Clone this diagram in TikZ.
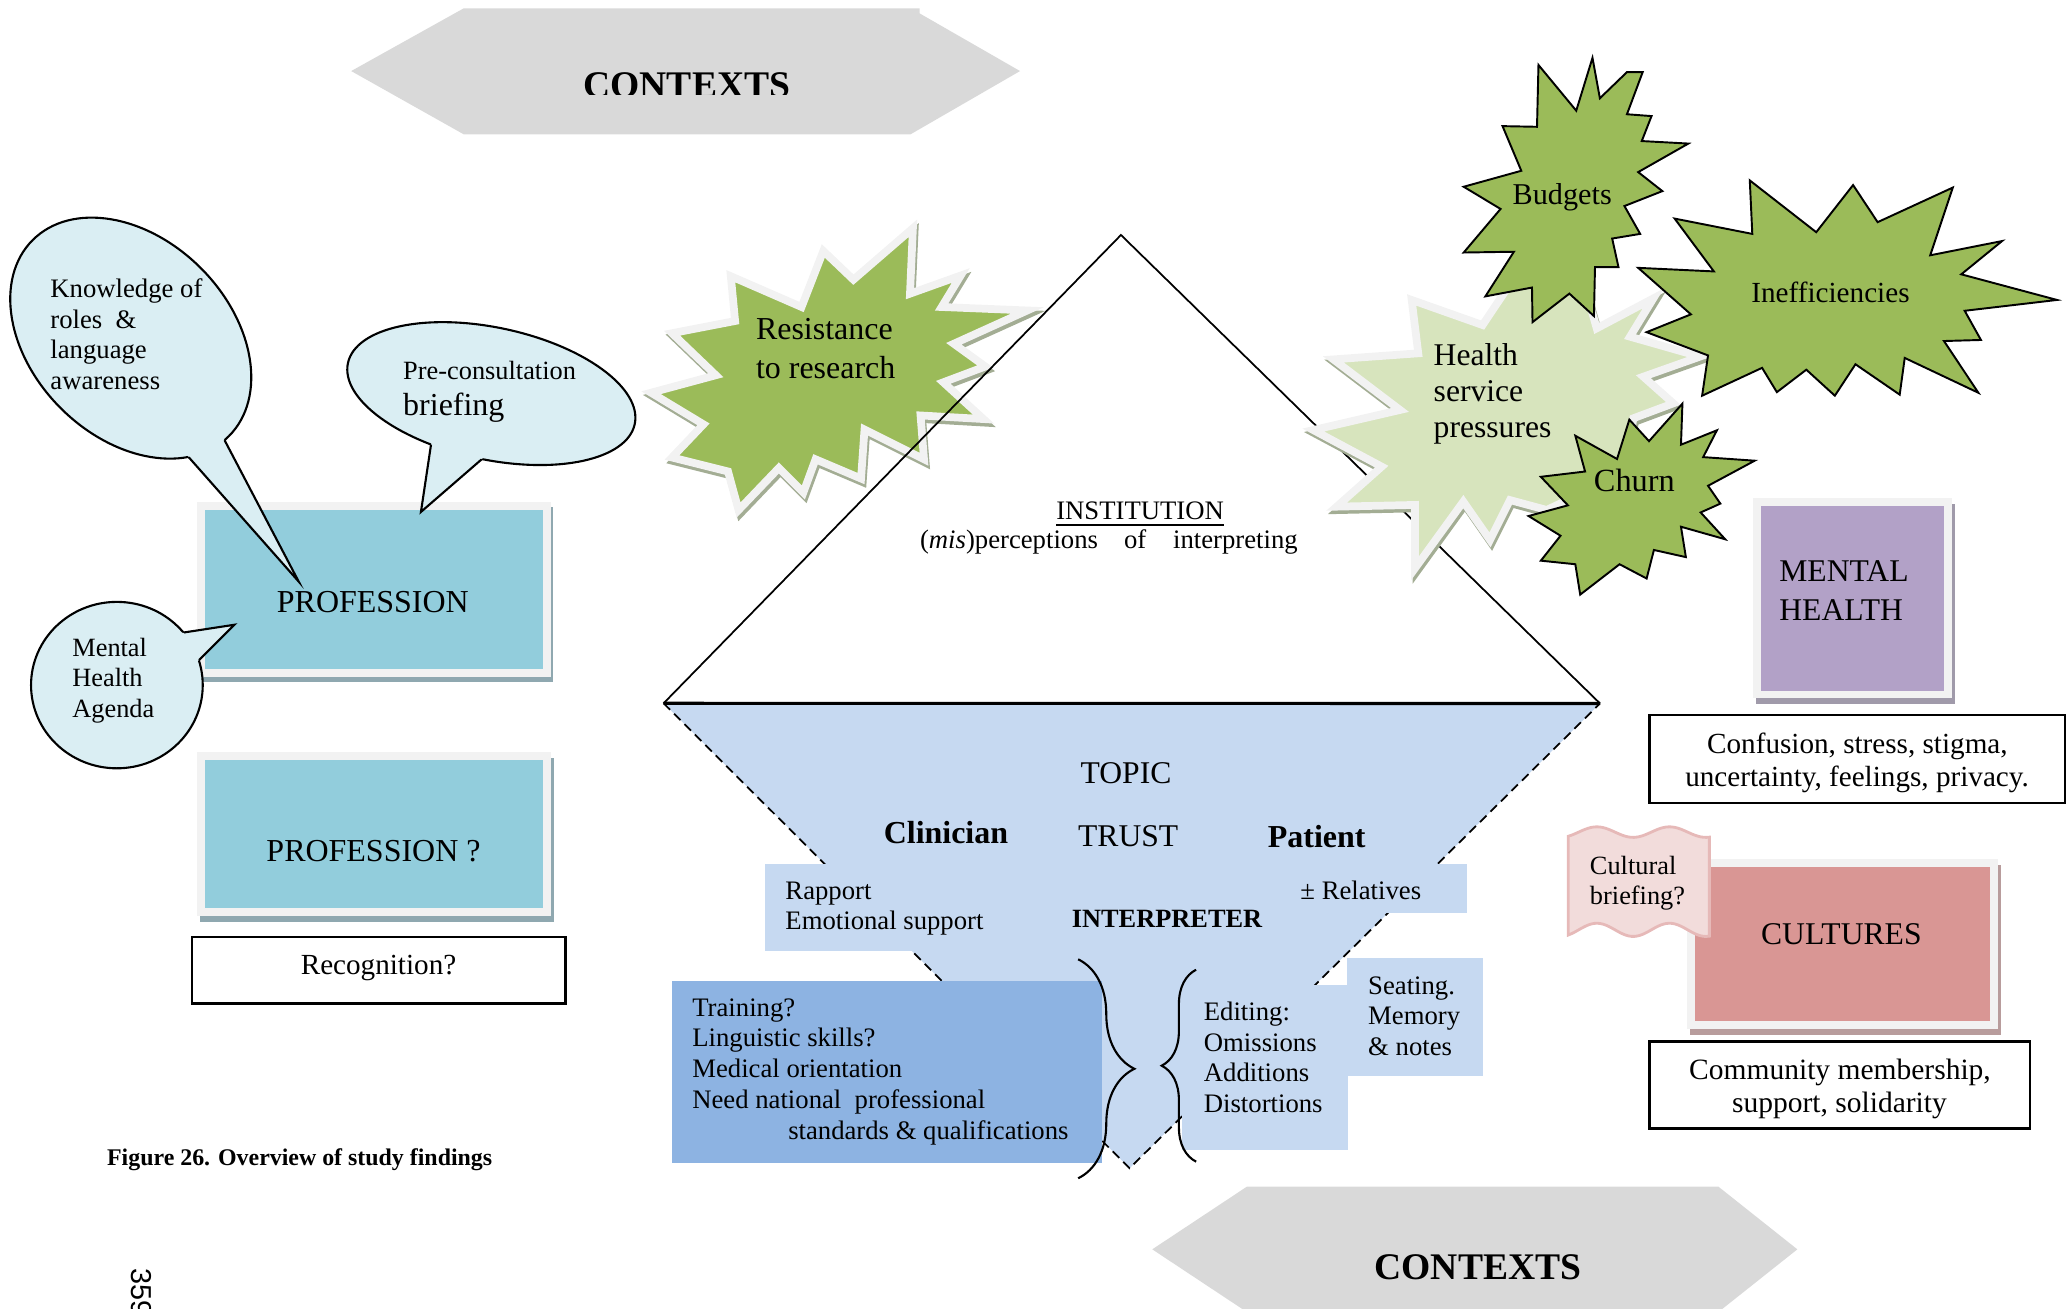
\documentclass[tikz,border=0pt]{standalone}
\usepackage{fontspec}
\setmainfont{Liberation Serif}
\newfontfamily\pnfont{Liberation Sans}
\usetikzlibrary{decorations.pathreplacing}

\definecolor{hexgray}{HTML}{D9D9D9}
\definecolor{bubblefill}{HTML}{DAEEF3}
\definecolor{profblue}{HTML}{92CDDC}
\definecolor{framegray}{HTML}{F2F2F2}
\definecolor{profshadow}{HTML}{8FA8B0}
\definecolor{stargreen}{HTML}{9BBB59}
\definecolor{lightgreen}{HTML}{D7E4BD}
\definecolor{starshadow}{HTML}{A3AD94}
\definecolor{funnelblue}{HTML}{C6D9F1}
\definecolor{trainblue}{HTML}{8DB3E2}
\definecolor{mhpurple}{HTML}{B2A1C7}
\definecolor{mhshadow}{HTML}{A09AAA}
\definecolor{cultpink}{HTML}{D99694}
\definecolor{cultshadow}{HTML}{B89C9C}
\definecolor{flagfill}{HTML}{F2DCDB}
\definecolor{flagedge}{HTML}{E6B9B8}

\tikzset{
  lbl/.style={inner sep=0pt, outer sep=0pt},
  f75/.style={lbl, font=\fontsize{7.5}{9}\selectfont},
  f76/.style={lbl, font=\fontsize{7.6}{9}\selectfont},
  f83/.style={lbl, font=\fontsize{8.3}{10}\selectfont},
  f84/.style={lbl, font=\fontsize{8.4}{10}\selectfont},
  f86/.style={lbl, font=\fontsize{8.6}{10}\selectfont},
  f90/.style={lbl, font=\fontsize{9}{11}\selectfont},
  f91/.style={lbl, font=\fontsize{9.1}{11}\selectfont},
  f92/.style={lbl, font=\fontsize{9.2}{11}\selectfont},
  b75/.style={lbl, font=\fontsize{7.5}{9}\selectfont\bfseries},
  b91/.style={lbl, font=\fontsize{9.1}{11}\selectfont\bfseries},
  b68/.style={lbl, font=\fontsize{6.8}{8}\selectfont\bfseries},
  ctx/.style={lbl, font=\fontsize{10.7}{13}\selectfont\bfseries},
  BL/.style={anchor=base west},
  BC/.style={anchor=base},
  BR/.style={anchor=base east},
  hexshape/.style={fill=hexgray},
  outline/.style={draw=black, line width=0.75pt},
  bubbleline/.style={draw=black, line width=0.6pt},
  funnelside/.style={draw=black, line width=0.5pt, dash pattern=on 2.6pt off 1.6pt},
  darkstar/.style={fill=stargreen, draw=black, line width=0.55pt, line join=miter},
  bracestyle/.style={decorate, draw=black, line width=0.6pt},
  flagstyle/.style={fill=flagfill, draw=flagedge, line width=0.8pt},
}

% inner colour, shadow colour, x1, y1, x2, y2 (outer frame)
\newcommand\myframe[6]{%
  \fill[#2] (#3+2.2,#4+4.3) rectangle (#5+2.2,#6+4.3);
  \fill[framegray] (#3,#4) rectangle (#5,#6);
  \fill[#1] (#3+6,#4+6) rectangle (#5-6,#6-6);
}

% centre, a, b, rotation, inner base 1, inner base 2, tip
\newcommand\mybubble[7]{%
  \fill[bubblefill, rotate around={#4:#1}] #1 ellipse (#2 and #3);
  \fill[bubblefill] #5 -- #7 -- #6 -- cycle;
  \begin{scope}[even odd rule]
    \clip (-3000,-3000) rectangle (5000,5000) #5 -- #7 -- #6 -- cycle;
    \draw[bubbleline, rotate around={#4:#1}] #1 ellipse (#2 and #3);
  \end{scope}
  \begin{scope}[even odd rule]
    \clip[rotate around={#4:#1}] (-5000,-5000) rectangle (7000,7000) #1 ellipse (#2 and #3);
    \draw[bubbleline] #5 -- #7 -- #6;
  \end{scope}
}

% scope options, fill colour, closed path
\newcommand\shadowstar[3]{%
  \begin{scope}[#1]
  \filldraw[fill=starshadow, draw=starshadow, line width=2.2pt, line join=miter, shift={(1.2,2.6)}] #3;
  \filldraw[fill=#2, draw=framegray, line width=2.2pt, line join=miter] #3;
  \end{scope}
}

\begin{document}
\begin{tikzpicture}[x=0.013208cm, y=-0.013208cm]
\useasboundingbox (0,0) rectangle (1568,991);
\clip (0,0) rectangle (1568,991);

% ---------- top CONTEXTS ----------
\fill[hexshape] (265.9,53.8) -- (351.1,6.3) -- (696.2,6.3) -- (696.2,10.1) -- (772.3,53.8) -- (689.4,101.7) -- (351.1,101.7) -- cycle;
\begin{scope}
  \clip (0,0) rectangle (1568,71.9);
  \node[ctx, BC] (ctxtop) at (520,73.5) {CONTEXTS};
\end{scope}

% ---------- left boxes ----------
\myframe{profblue}{profshadow}{149.1}{379.8}{416.8}{512.2}
\node[f91, BC] (prof) at (282.3,463.7) {PROFESSION};
\myframe{profblue}{profshadow}{149.2}{569.4}{417.2}{693.5}
\node[f91, BC] (profq) at (282.8,652.6) {PROFESSION ?};
\draw[outline] (145.5,709.5) rectangle (428,759.8);
\node[f83, BC] (recog) at (286.6,738) {Recognition?};

% ---------- speech bubbles ----------
\mybubble{(99,256)}{105}{75}{-45}{(159.6,313.4)}{(128.6,330)}{(226.2,440.4)}
\node[f76, BL] (k1) at (38.2,225.3) {Knowledge of};
\node[f76, BL] (k2) at (38.2,248.5) {roles\ \ \&};
\node[f76, BL] (k3) at (38.2,271.7) {language};
\node[f76, BL] (k4) at (38.2,294.8) {awareness};

\mybubble{(372,298)}{111}{50}{-12}{(329.6,314.8)}{(381.6,333.1)}{(318.7,387.6)}
\node[f75, BL] (pre1) at (305.3,287.6) {Pre-consultation};
\node[f91, BL] (pre2) at (305.3,314.3) {briefing};

\mybubble{(88.5,518.7)}{65}{63}{0}{(119.4,481.9)}{(135.6,514.7)}{(177.5,473)}
\node[f75, BL] (m1) at (54.8,496.8) {Mental};
\node[f75, BL] (m2) at (54.8,520) {Health};
\node[f75, BL] (m3) at (54.8,543.2) {Agenda};

% ---------- caption and page number ----------
\node[b68, BL] (caption) at (81.1,882.2) {Figure 26. Overview of study findings};
\node[lbl, font=\pnfont\fontsize{8.2}{10}\selectfont, anchor=base west, rotate=-90] (pagenum) at (99.7,960.5) {359};

% ---------- Resistance star ----------
\shadowstar{scale around={1.05:(635,280)}}{stargreen}{(557.2,212.5) -- (608.2,234.7) -- (623.9,194.3) -- (645.6,215) -- (688.5,177.9) -- (686.4,225.1) -- (723,212) -- (709.2,234.7) -- (771,237.2) -- (718,261.2) -- (740.7,277.6) -- (710.4,289) -- (739.4,315.5) -- (694,312.9) -- (696.5,344.5) -- (653.6,323) -- (651.1,358.4) -- (618.3,344.5) -- (609.5,368.5) -- (591.8,350.8) -- (562.8,381.1) -- (555.2,353.3) -- (514.8,343.2) -- (537.5,319.3) -- (499.7,296.5) -- (546.4,283.9) -- (514.8,253.6) -- (560.3,244.8) -- cycle}
\node[f91, BL] (res1) at (572.4,257.4) {Resistance};
\node[f91, BL] (res2) at (572.4,286.4) {to research};

% ---------- institution triangle ----------
\draw[line width=0.5pt] (502.4,532.5) -- (848.7,177.9) -- (1211.4,532.6);
\node[f76, BC] (inst) at (863.2,393.7) {\underline{INSTITUTION}};
\node[f76, BL] (mis) at (696.6,415.2) {(\textit{mis})perceptions};
\node[f76, BC] (of) at (859.5,415.2) {of};
\node[f76, BR] (interp) at (982.5,415.2) {interpreting};

% ---------- funnel ----------
\fill[funnelblue] (502.4,532.5) -- (1211.4,532.6) -- (855.2,884.5) -- cycle;
\draw[funnelside] (502.4,532.5) -- (855.2,884.5) -- (1211.4,532.6);
\fill[funnelblue] (579,654) rectangle (700,720);
\fill[funnelblue] (579,654) rectangle (1110.6,691);
\fill[funnelblue] (895,746) rectangle (1020.6,870.7);
\fill[funnelblue] (1020,725.6) rectangle (1122.5,814.4);
\fill[trainblue] (508.6,742.7) rectangle (834,880.3);
\draw[line width=0.9pt] (502.4,532.5) -- (1211.4,532.6);

\draw[bracestyle, decoration={brace, amplitude=16pt}] (816.3,726.3) -- (816.3,892.1);
\draw[bracestyle, decoration={brace, amplitude=9.8pt}] (905.6,879.5) -- (905.6,734.2);

\node[f90, BC] (topic) at (852.5,593) {TOPIC};
\node[b91, BC] (clin) at (716.2,639) {Clinician};
\node[f90, BC] (trust) at (854.2,641) {TRUST};
\node[b91, BC] (pat) at (996.9,641.5) {Patient};
\node[f76, BL] (rap1) at (594.7,681.4) {Rapport};
\node[f76, BL] (rap2) at (594.7,704.1) {Emotional support};
\node[f76, BL] (rel) at (984.6,681.4) {± Relatives};
\node[b75, BC] (interpreter) at (883.6,702.1) {INTERPRETER};
\node[f76, BL] (tr1) at (524.2,769.7) {Training?};
\node[f76, BL] (tr2) at (524.2,792.5) {Linguistic skills?};
\node[f76, BL] (tr3) at (524.2,815.7) {Medical orientation};
\node[f76, BL] (tr4) at (524.2,839.1) {Need national\ \ professional};
\node[f76, BL] (tr5) at (596.8,862.6) {standards \& qualifications};
\node[f76, BL] (ed1) at (911.5,772.8) {Editing:};
\node[f76, BL] (ed2) at (911.5,796.2) {Omissions};
\node[f76, BL] (ed3) at (911.5,819) {Additions};
\node[f76, BL] (ed4) at (911.5,842.4) {Distortions};
\node[f76, BL] (se1) at (1035.9,752.6) {Seating.};
\node[f76, BL] (se2) at (1035.9,776) {Memory};
\node[f76, BL] (se3) at (1035.9,799.5) {\& notes};

% ---------- health service stars ----------
\shadowstar{}{lightgreen}{(1068.8,227.1) -- (1122.5,246.1) -- (1150,205) -- (1178,226) -- (1195,200) -- (1208.9,248.6) -- (1251.8,225.9) -- (1234.1,254.9) -- (1287.1,270) -- (1244.2,285.2) -- (1266.9,305.4) -- (1236.6,316.7) -- (1230,365) -- (1205,370) -- (1171,386.1) -- (1143.2,378.6) -- (1128.1,408.8) -- (1107.9,379.8) -- (1071.3,430.3) -- (1071.3,382.3) -- (1012,383.6) -- (1046.1,353.3) -- (994.3,325.6) -- (1060,310.4) -- (1009.5,272.1) -- (1073.8,267.5) -- cycle}
\node[f90, BL] (hs1) at (1085.5,276.4) {Health};
\node[f90, BL] (hs2) at (1085.5,304.2) {service};
\node[f90, BL] (hs3) at (1085.5,331.3) {pressures};

\filldraw[darkstar] (1164.8,49.2) -- (1193.4,83.8) -- (1205.7,43.8) -- (1211.3,74.4) -- (1231.8,54.6) -- (1243.7,54.6) -- (1231.8,86.5) -- (1250.4,87.9) -- (1243,106.8) -- (1278.3,108.7) -- (1240.3,130.3) -- (1258.6,144.7) -- (1229.9,156) -- (1241.8,177.1) -- (1220.6,180.6) -- (1225.4,202.3) -- (1207.6,202.3) -- (1206.8,239.3) -- (1188.2,222.3) -- (1160.3,243.9) -- (1159.9,217.7) -- (1124.6,224.4) -- (1146.2,190.6) -- (1108.2,191.2) -- (1136.1,158.2) -- (1108.2,141.4) -- (1151.8,129.3) -- (1137.6,95.5) -- (1163.7,96) -- cycle;
\node[f86, BC] (budgets) at (1182.8,154.7) {Budgets};

\filldraw[darkstar] (1267.9,165.5) -- (1326.7,177.1) -- (1324.8,136.6) -- (1375.1,175.8) -- (1403,140.1) -- (1421.6,168.2) -- (1478.5,142) -- (1461.4,193.3) -- (1515.8,182.5) -- (1484.9,207.7) -- (1557.4,227.1) -- (1487.5,235.3) -- (1499.8,257.4) -- (1471.8,258.2) -- (1497.9,297.4) -- (1442.1,271) -- (1438.3,298.8) -- (1404.8,275.8) -- (1389.2,299.6) -- (1367.6,279.9) -- (1345.3,296.9) -- (1334.1,278.5) -- (1288.7,299.6) -- (1293.2,269.1) -- (1246.7,251.5) -- (1280.2,238) -- (1240.3,202.8) -- (1297.6,205.5) -- cycle;
\node[f83, BC] (ineff) at (1385.9,229.3) {Inefficiencies};

\filldraw[darkstar] (1273.8,305.6) -- (1272.7,336.7) -- (1299.9,325.8) -- (1289.5,346.1) -- (1328.5,348.8) -- (1293.2,367.8) -- (1302.5,381.3) -- (1287.6,388) -- (1306.2,408.3) -- (1272.7,398.8) -- (1276.4,421.8) -- (1252.2,416.4) -- (1246.7,438) -- (1226.2,427.2) -- (1196.4,450.2) -- (1192.7,427.2) -- (1166.6,424.5) -- (1181.5,405.6) -- (1157.3,390.7) -- (1187.1,382.6) -- (1166.6,361) -- (1200.1,357) -- (1192.7,329.9) -- (1224.3,347.5) -- (1233.6,317.7) -- (1248.5,334) -- cycle;
\node[f92, BC] (churn) at (1237.4,371.8) {Churn};

% ---------- right boxes ----------
\myframe{mhpurple}{mhshadow}{1327}{377.3}{1477.6}{528.8}
\node[f90, BL] (mh1) at (1347.2,440.6) {MENTAL};
\node[f90, BL] (mh2) at (1347.2,469.9) {HEALTH};
\draw[outline] (1248.7,541.4) rectangle (1563.5,608);
\node[f83, BC] (conf1) at (1406.3,570.3) {Confusion, stress, stigma,};
\node[f83, BC] (conf2) at (1406,595.4) {uncertainty, feelings, privacy.};

\myframe{cultpink}{cultshadow}{1277}{650.4}{1512.5}{779}
\node[f90, BC] (cult) at (1394.1,715.3) {CULTURES};
\filldraw[flagstyle] plot[domain=1187.4:1294.2, samples=50] (\x, {630-4*sin((\x-1187)*6.545-54)}) -- plot[domain=1294.2:1187.4, samples=50] (\x, {704-5*sin((\x-1187)*6.545-54)}) -- cycle;
\node[f75, BL] (cb1) at (1203.8,662) {Cultural};
\node[f75, BL] (cb2) at (1203.8,684.5) {briefing?};
\draw[outline] (1248.7,788.5) rectangle (1537,854.4);
\node[f84, BC] (comm1) at (1393.1,817.3) {Community membership,};
\node[f84, BC] (comm2) at (1392.7,842.5) {support, solidarity};

% ---------- bottom CONTEXTS ----------
\fill[hexshape] (872.4,945.9) -- (944.1,898.4) -- (1301,898.4) -- (1360.8,945.9) -- (1301,993.4) -- (944.1,993.4) -- cycle;
\node[ctx, BC] (ctxbot) at (1119,968.6) {CONTEXTS};
\end{tikzpicture}
\end{document}
